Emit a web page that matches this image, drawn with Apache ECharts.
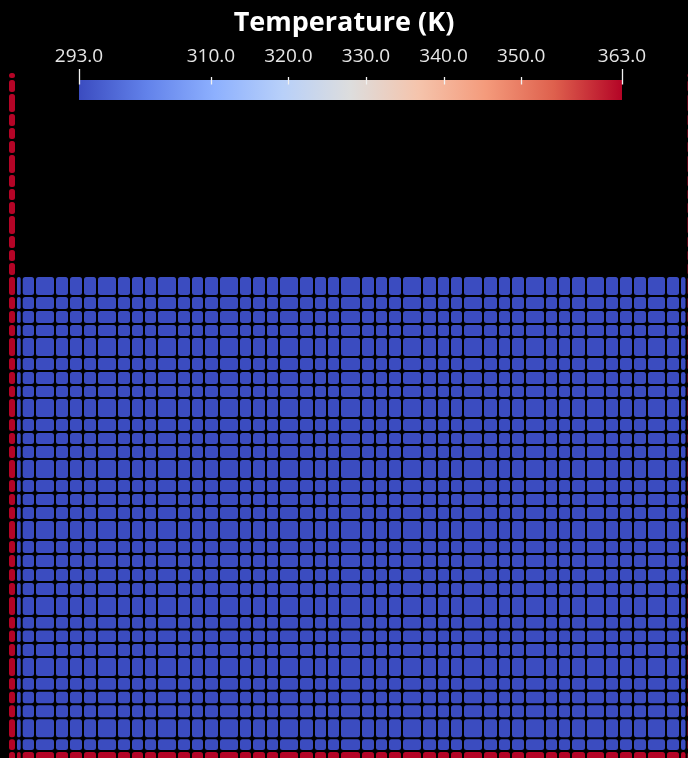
<!DOCTYPE html>
<html><head><meta charset="utf-8">
<script src="https://cdn.jsdelivr.net/npm/echarts@6/dist/echarts.min.js"></script>
<style>html,body{margin:0;padding:0;background:#000}#c{width:688px;height:758px}</style>
</head><body><div id="c"></div>
<script>
// ---- data ----
const titleText = 'Temperature (K)';
const tempMin = 293, tempMax = 363;
const labelTicks = [293, 310, 320, 330, 340, 350, 363];
const endTicks = [293, 363];
const cmapStops = [0, 0.125, 0.25, 0.375, 0.5, 0.625, 0.75, 0.875, 1];
const cmapColors = ['#3b4cc0', '#6282ea', '#8db0fe', '#b8d0f9', '#dddddd', '#f5c4ac', '#f49a7b', '#de604d', '#b40426'];
// particle cell edges (x) : first = left wall column, last = right wall column
const colEdges = [8, 16, 21.7, 35, 55, 69, 83, 97, 117, 131, 144, 157, 177, 191, 204, 219, 239, 252, 266, 279, 299, 314, 327, 340, 361, 375, 388, 402, 422, 437, 450, 463, 483, 498, 511, 525, 545, 558, 571, 586, 605, 619, 633, 647, 666, 680, 686.5, 695];
// row edges (y, downward): wall-only rows above the fluid, fluid rows, bottom wall row
const wallRowEdges = [72, 79, 93, 113, 127, 140, 154, 174, 188, 201, 215, 235, 249, 262, 276];
const fluidRowEdges = [276, 296, 310, 324, 337, 357, 371, 385, 398, 418, 432, 445, 459, 479, 493, 506, 520, 540, 554, 568, 582, 596, 616, 629.5, 643, 657, 677, 690.7, 704.3, 718.3, 738.3, 751];
const bottomWallEdges = [751, 762];
const fluidTemp = 293;
const wallTemp = 363;

// ---- build cells ----
const cells = [];
const nCol = colEdges.length - 1;
function addRow(y0, y1, fluidRow) {
  for (let c = 0; c < nCol; c++) {
    const isWall = !fluidRow || c === 0 || c === nCol - 1;
    cells.push([colEdges[c], colEdges[c + 1], y0, y1, isWall ? wallTemp : fluidTemp]);
  }
}
for (let r = 0; r < wallRowEdges.length - 1; r++) {
  const y0 = wallRowEdges[r], y1 = wallRowEdges[r + 1];
  cells.push([colEdges[0], colEdges[1], y0, y1, wallTemp]);
  cells.push([colEdges[nCol - 1], colEdges[nCol], y0, y1, wallTemp]);
}
for (let r = 0; r < fluidRowEdges.length - 1; r++) addRow(fluidRowEdges[r], fluidRowEdges[r + 1], true);
addRow(bottomWallEdges[0], bottomWallEdges[1], false);

const tickData = labelTicks.map(v => [v, endTicks.indexOf(v) >= 0 ? 1 : 0]);

const chart = echarts.init(document.getElementById('c'), null, {renderer: 'canvas'});
const gap = 1.0;
chart.setOption({
  backgroundColor: '#000',
  animation: false,
  title: {
    text: titleText, left: 'center', top: 5,
    textStyle: {color: '#ffffff', fontSize: 27, fontWeight: 'bold', fontFamily: 'Open Sans'}
  },
  grid: [
    {left: 0, top: 0, width: 688, height: 758, containLabel: false, outerBoundsMode: 'none'},
    {left: 79, top: 80, width: 543, height: 20, containLabel: false, outerBoundsMode: 'none'}
  ],
  xAxis: [
    {gridIndex: 0, type: 'value', min: 0, max: 688, show: false},
    {gridIndex: 1, type: 'value', min: tempMin, max: tempMax, position: 'top',
     axisLine: {show: false}, splitLine: {show: false}, axisTick: {show: false},
     axisLabel: {show: true, margin: 14, customValues: labelTicks, color: '#e6e6e6', fontSize: 19,
       fontFamily: 'Open Sans', showMinLabel: true, showMaxLabel: true, hideOverlap: false,
       formatter: v => Number(v).toFixed(1)}}
  ],
  yAxis: [
    {gridIndex: 0, type: 'value', min: 0, max: 758, inverse: true, show: false},
    {gridIndex: 1, type: 'value', min: 0, max: 1, show: false}
  ],
  visualMap: {
    type: 'continuous', show: false, min: tempMin, max: tempMax, dimension: 4, seriesIndex: 0,
    inRange: {color: cmapColors}
  },
  series: [
    {
      type: 'custom', xAxisIndex: 0, yAxisIndex: 0, data: cells, clip: false,
      encode: {x: [0, 1], y: [2, 3]},
      renderItem: function (params, api) {
        const p0 = api.coord([api.value(0), api.value(2)]);
        const p1 = api.coord([api.value(1), api.value(3)]);
        const x = Math.min(p0[0], p1[0]), y = Math.min(p0[1], p1[1]);
        const w = Math.abs(p1[0] - p0[0]), h = Math.abs(p1[1] - p0[1]);
        return {type: 'rect',
          shape: {x: x + gap, y: y + gap, width: Math.max(0, w - 2 * gap), height: Math.max(0, h - 2 * gap), r: 2.5},
          style: {fill: api.visual('color')}};
      }
    },
    {
      type: 'custom', xAxisIndex: 1, yAxisIndex: 1, data: [[tempMin, tempMax]], z: 2,
      renderItem: function (params, api) {
        const a = api.coord([api.value(0), 0]);
        const b = api.coord([api.value(1), 1]);
        return {type: 'rect',
          shape: {x: a[0], y: b[1], width: b[0] - a[0], height: a[1] - b[1]},
          style: {fill: new echarts.graphic.LinearGradient(0, 0, 1, 0,
            cmapStops.map((s, i) => ({offset: s, color: cmapColors[i]})))}};
      }
    },
    {
      type: 'custom', xAxisIndex: 1, yAxisIndex: 1, data: tickData, z: 5,
      renderItem: function (params, api) {
        const p = api.coord([api.value(0), 1]);
        const x = Math.round(p[0]) + 0.5;
        const isEnd = api.value(1) === 1;
        return {type: 'line',
          shape: {x1: x, y1: p[1] + 4.5, x2: x, y2: p[1] - (isEnd ? 11 : 3)},
          style: {stroke: '#f2f2f2', lineWidth: 1.3}};
      }
    }
  ]
});
</script></body></html>
